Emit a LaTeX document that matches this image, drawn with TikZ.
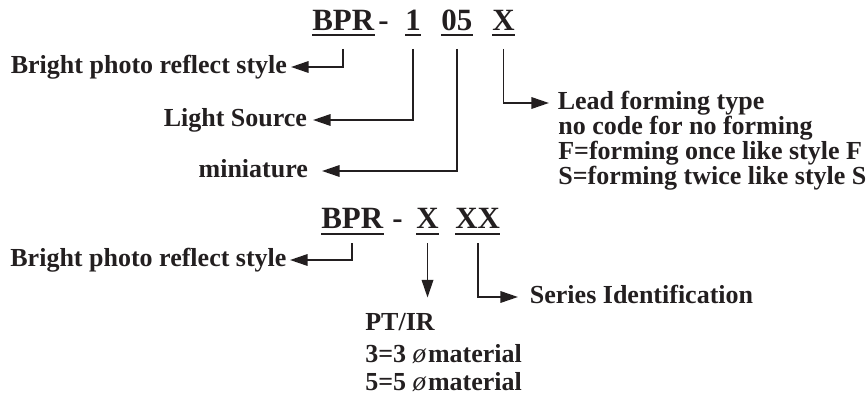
\documentclass[tikz,border=0pt]{standalone}
\usepackage{fontspec}
\setmainfont{Liberation Serif}
\usetikzlibrary{arrows.meta}
\definecolor{ink}{RGB}{35,31,32}
\newcommand\dia{{\fontsize{15.5}{15.5}\selectfont\mdseries\itshape ø}\kern1pt}
\tikzset{
	code/.style={font=\fontsize{17.6}{20}\selectfont\bfseries, inner sep=0pt, anchor=base west, text depth=0pt, text=ink},
	note/.style={font=\fontsize{14.8}{17}\selectfont\bfseries, inner sep=0pt, text height=10.4pt, text depth=3.3pt, text=ink},
	lead/.style={draw=ink, line width=1.1pt, -{Triangle[length=10pt,width=6.5pt]}},
	uline/.style={draw=ink, line width=1.1pt}
}

\begin{document}
\begin{tikzpicture}[x=0.02cm, y=-0.02cm]
			%%%%% START %%%%%
			\useasboundingbox (0, 0) rectangle (867, 402);
			
			% first part number
			\node[code] (bpr) at (312, 31) {BPR};
			\node[code] (dash) at (378, 31) {-};
			\node[code] (one) at (405, 31) {1};
			\node[code] (ofive) at (441, 31) {05};
			\node[code] (xlead) at (492, 31) {X};
			\foreach \n in {bpr,one,ofive,xlead}
				\draw[uline] ([yshift=-2.5pt]\n.base west) -- ([yshift=-2.5pt]\n.base east);
			
			\node[note, anchor=east, outer xsep=2.3pt] (bright) at (291, 67) {Bright photo reflect style};
			\node[note, anchor=east, outer xsep=3.4pt] (light) at (313, 120) {Light Source};
			\node[note, anchor=east, outer xsep=8pt] (mini) at (322, 171) {miniature};
			
			\node[note, anchor=west, outer xsep=5pt] (lead) at (549, 103) {Lead forming type};
			\node[note, anchor=west] (nocode) at (558, 128) {no code for no forming};
			\node[note, anchor=west] (fonce) at (558, 153) {F=forming once like style F};
			\node[note, anchor=west] (stwice) at (558, 178) {S=forming twice like style S};
			
			\draw[lead, shorten <=10pt] (bpr.south) |- (bright.east);
			\draw[lead, shorten <=10pt] (one.south) |- (light.east);
			\draw[lead, shorten <=10pt] (ofive.south) |- (mini.east);
			\draw[lead, shorten <=10pt] (xlead.south) |- (lead.west);
			
			% second part number
			\node[code] (bprb) at (321, 229) {BPR};
			\node[code] (dashb) at (392, 229) {-};
			\node[code] (xtype) at (416, 229) {X};
			\node[code] (xser) at (455, 229) {XX};
			\foreach \n in {bprb,xtype,xser}
				\draw[uline] ([yshift=-2.7pt]\n.base west) -- ([yshift=-2.7pt]\n.base east);
			
			\node[note, anchor=east, outer xsep=2pt] (brightb) at (290, 260) {Bright photo reflect style};
			\node[note, anchor=west, outer xsep=6.8pt] (series) at (518, 297) {Series Identification};
			
			\node[note, anchor=west] (ptir) at (365, 324) {PT/IR};
			\node[note, anchor=west] (three) at (365, 356) {3=3 \dia material};
			\node[note, anchor=west] (five) at (365, 384) {5=5 \dia material};
			
			\draw[lead, shorten <=8pt] (bprb.south) |- (brightb.east);
			\draw[lead, shorten <=8pt, shorten >=8pt] (xtype.south) -- (xtype.south |- ptir.north);
			\draw[lead, shorten <=8pt] (xser.south) |- (series.west);
			
			%%%%% END %%%%%
\end{tikzpicture}
\end{document}
